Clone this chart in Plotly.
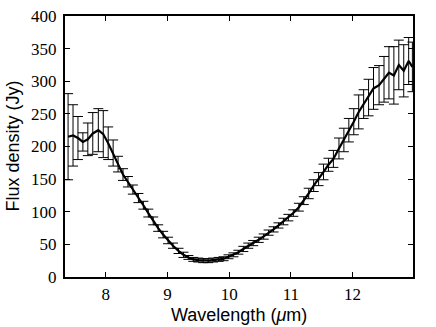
import plotly.graph_objects as go

# Spectrum
wavelength = [
    7.39, 7.47, 7.55, 7.63, 7.71, 7.79, 7.88, 7.96,
    8.04, 8.12, 8.20, 8.28, 8.36, 8.44, 8.53, 8.61, 8.69, 8.77, 8.85, 8.93,
    9.01, 9.09, 9.18, 9.26, 9.34, 9.42, 9.50, 9.58, 9.66, 9.74, 9.83, 9.91,
    9.99, 10.07, 10.15, 10.23, 10.31, 10.39, 10.48, 10.56, 10.64, 10.72, 10.80, 10.88,
    10.96, 11.04, 11.13, 11.21, 11.29, 11.37, 11.45, 11.53, 11.61, 11.69, 11.78, 11.86,
    11.94, 12.02, 12.10, 12.18, 12.26, 12.34, 12.43, 12.51, 12.59, 12.67, 12.75, 12.83,
    12.91, 12.97,
]
flux = [
    215, 217, 213, 207, 211, 220, 225, 219,
    205, 190, 173, 157, 146, 134, 121, 110, 98, 86, 75, 65,
    56, 48, 40, 34, 30, 27, 26, 25, 25, 26, 27, 28,
    31, 34, 38, 43, 48, 52, 57, 62, 68, 73, 79, 85,
    91, 98, 107, 117, 128, 140, 150, 161, 172, 181, 197, 210,
    225, 238, 253, 265, 275, 289, 294, 303, 313, 309, 325, 316,
    331, 322,
]
flux_err = [
    66, 47, 33, 14, 25, 32, 33, 36,
    25, 20, 12, 9, 8, 7, 7, 6, 6, 6, 5, 5,
    5, 4, 4, 4, 3, 3, 3, 3, 3, 3, 3, 3,
    3, 3, 3, 4, 4, 4, 4, 4, 4, 4, 4, 5,
    5, 5, 6, 6, 8, 9, 10, 12, 10, 13, 16, 18,
    18, 20, 26, 22, 28, 32, 30, 35, 40, 44, 38, 40,
    36, 38,
]

x_ticks = [8, 9, 10, 11, 12]
y_ticks = [0, 50, 100, 150, 200, 250, 300, 350, 400]

fig = go.Figure()

fig.add_trace(go.Scatter(
    x=wavelength,
    y=flux,
    mode='lines',
    line=dict(color='black', width=2.2),
    error_y=dict(type='data', array=flux_err, visible=True,
                 color='black', thickness=1, width=5),
    showlegend=False
))

axis_common = dict(
    showline=True, linecolor='black', linewidth=2, mirror='ticks',
    ticks='inside', ticklen=5, tickwidth=1, tickcolor='black',
    showgrid=False, zeroline=False, automargin=False,
    tickfont=dict(family='Liberation Serif', size=17, color='black'),
)

fig.update_xaxes(range=[7.34, 12.98], tickvals=x_ticks, ticklabelstandoff=1, **axis_common)
fig.update_yaxes(range=[0, 400], tickvals=y_ticks, ticklabelstandoff=3, **axis_common)

title_font = dict(family='Liberation Sans', size=18, color='black')
# axis titles as annotations so the plot box stays put
fig.add_annotation(text='Wavelength (<i>μ</i>m)', xref='paper', yref='paper',
                   x=0.5, y=-0.146, xanchor='center', yanchor='middle',
                   showarrow=False, font=title_font)
fig.add_annotation(text='Flux density (Jy)', xref='paper', yref='paper',
                   x=-0.152, y=0.5, xanchor='center', yanchor='middle',
                   textangle=-90, showarrow=False, font=title_font)

fig.update_layout(
    width=436, height=327,
    margin=dict(l=65, r=23, t=16, b=50),
    plot_bgcolor='white', paper_bgcolor='white',
)

# drop the default body margin so the figure fills the window
fig.write_html("out.html", config={'displayModeBar': False},
               post_script="document.body.style.margin='0';")
